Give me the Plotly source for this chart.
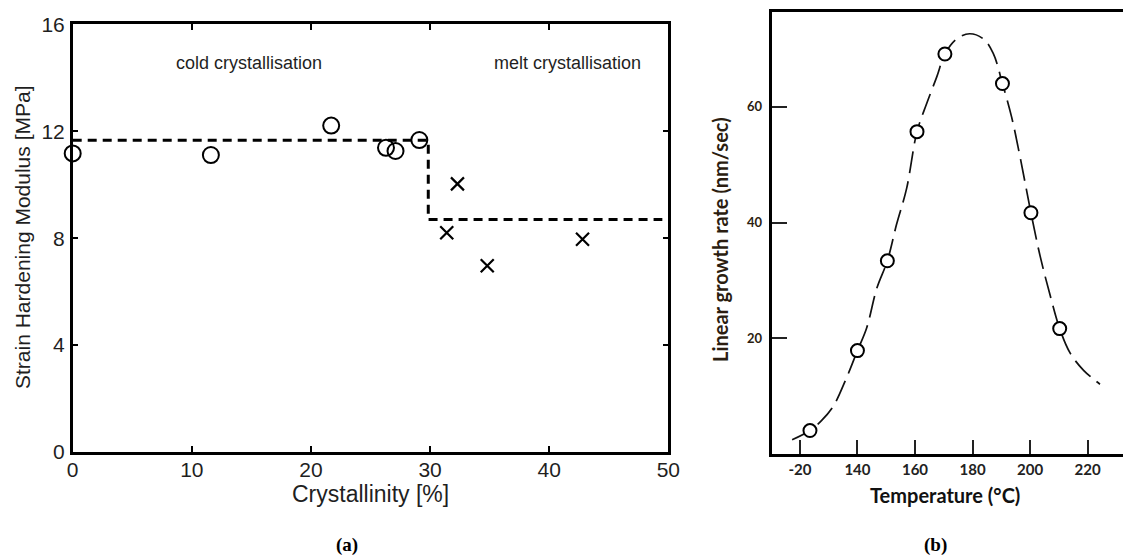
import plotly.graph_objects as go

# ---------------- Panel (a) data ----------------
cold_crystallinity = [0.0, 11.6, 21.7, 26.3, 27.1, 29.1]
cold_modulus = [11.17, 11.11, 12.21, 11.38, 11.26, 11.67]
melt_crystallinity = [31.4, 32.3, 34.8, 42.8]
melt_modulus = [8.20, 10.03, 6.97, 7.96]
step_crystallinity = [0.0, 29.85, 29.85, 49.5]
step_modulus = [11.66, 11.66, 8.70, 8.70]
a_xticks = [0, 10, 20, 30, 40, 50]
a_yticks = [0, 4, 8, 12, 16]

# ---------------- Panel (b) data ----------------
growth_temp = [123.5, 140.0, 150.4, 160.7, 170.4, 190.4, 200.3, 210.3]
growth_rate = [4.1, 17.9, 33.4, 55.7, 69.1, 64.0, 41.7, 21.7]
curve_temp = [117.3, 123.5, 127.5, 131.6, 136.2, 140.0, 143.2, 146.7, 150.4, 153.6,
              157.1, 160.7, 164.1, 167.6, 170.4, 174.5, 179.0, 183.8, 187.2, 190.4,
              193.6, 196.5, 200.3, 203.5, 207.0, 210.3, 213.9, 218.6, 224.3]
curve_rate = [2.5, 4.1, 5.8, 8.3, 13.2, 17.9, 21.8, 28.6, 33.4, 39.7,
              45.9, 55.7, 60.6, 65.2, 69.1, 71.7, 72.6, 71.7, 69.2, 64.0,
              58.2, 51.4, 41.7, 34.2, 27.4, 21.7, 17.5, 14.5, 12.1]
b_xticks = [120, 140, 160, 180, 200, 220]
b_xticktext = ["-20", "140", "160", "180", "200", "220"]
b_yticks = [20, 40, 60]

W, H = 1123, 559
def px(x):
    return x / W
def py(y):
    return 1 - y / H

A_FONT = "Liberation Sans, Arial, sans-serif"
B_FONT = "Lato, Open Sans, sans-serif"
TXT = "#1f1f1f"

fig = go.Figure()

# (a) traces
fig.add_trace(go.Scatter(x=step_crystallinity, y=step_modulus, mode="lines",
                         line=dict(color="black", width=3, dash="9px,6px"),
                         xaxis="x", yaxis="y", showlegend=False, cliponaxis=False))
fig.add_trace(go.Scatter(x=cold_crystallinity, y=cold_modulus, mode="markers",
                         marker=dict(symbol="circle-open", size=16, color="black",
                                     line=dict(width=2)),
                         xaxis="x", yaxis="y", showlegend=False, cliponaxis=False))
fig.add_trace(go.Scatter(x=melt_crystallinity, y=melt_modulus, mode="markers",
                         marker=dict(symbol="x-thin-open", size=13, color="black",
                                     line=dict(width=2.2, color="black")),
                         xaxis="x", yaxis="y", showlegend=False, cliponaxis=False))

# (b) traces
fig.add_trace(go.Scatter(x=curve_temp, y=curve_rate, mode="lines",
                         line=dict(color="#111111", width=1.7, dash="22px,8px", shape="spline"),
                         xaxis="x2", yaxis="y2", showlegend=False))
fig.add_trace(go.Scatter(x=growth_temp, y=growth_rate, mode="markers",
                         marker=dict(symbol="circle", size=13, color="white",
                                     line=dict(width=2, color="black")),
                         xaxis="x2", yaxis="y2", showlegend=False))

axis_a = dict(showline=True, linecolor="black", linewidth=2.5, mirror="ticks",
              ticks="inside", ticklen=6, tickwidth=2, tickcolor="black",
              showgrid=False, zeroline=False, automargin=False,
              tickfont=dict(family=A_FONT, size=21, color=TXT))

fig.update_layout(
    template="none",
    width=W, height=H, autosize=False,
    margin=dict(l=0, r=0, t=0, b=0, pad=0),
    paper_bgcolor="white", plot_bgcolor="white",
    xaxis=dict(domain=[px(72.7), px(668.3)], range=[0, 50], tickvals=a_xticks,
               anchor="y", ticklabelstandoff=-3, **axis_a),
    yaxis=dict(domain=[py(452), py(24.3)], range=[0, 16], tickvals=a_yticks,
               anchor="x", ticklabelstandoff=1, **axis_a),
    xaxis2=dict(domain=[px(771.7), 1.0], range=[110.2, 232.3], anchor="y2",
                tickvals=b_xticks, ticktext=b_xticktext, automargin=False,
                showline=True, linecolor="black", linewidth=3, mirror=True,
                ticks="inside", ticklen=14, tickwidth=2, tickcolor="#222",
                showgrid=False, zeroline=False,
                tickfont=dict(family=B_FONT, size=15, color="#222", weight="bold")),
    yaxis2=dict(domain=[py(454.3), py(12.3)], range=[0, 76.3], anchor="x2",
                tickvals=b_yticks, automargin=False,
                showline=True, linecolor="black", linewidth=3, mirror=False,
                ticks="inside", ticklen=15, tickwidth=2, tickcolor="#222",
                showgrid=False, zeroline=False, ticklabelstandoff=4,
                tickfont=dict(family=B_FONT, size=13, color="#2b1d10", weight="bold")),
)

annotations = [
    dict(text="cold crystallisation", x=px(248.7), y=py(63.3),
         font=dict(family=A_FONT, size=18, color=TXT)),
    dict(text="melt crystallisation", x=px(567.5), y=py(63.3),
         font=dict(family=A_FONT, size=18, color=TXT)),
    dict(text="Crystallinity [%]", x=px(370), y=py(494),
         font=dict(family=A_FONT, size=23, color=TXT)),
    dict(text="Strain Hardening Modulus [MPa]", x=px(22), y=py(237), textangle=-90,
         font=dict(family=A_FONT, size=21, color=TXT)),
    dict(text="Temperature (°C)", x=px(945), y=py(495),
         font=dict(family=B_FONT, size=20, color="#111", weight="bold")),
    dict(text="Linear growth rate (nm/sec)", x=px(720), y=py(240), textangle=-90,
         font=dict(family=B_FONT, size=20, color="#2b1d10", weight="bold")),
    dict(text="<b>(a)</b>", x=px(347), y=py(545),
         font=dict(family="Liberation Serif, Times New Roman, serif", size=19, color="black")),
    dict(text="<b>(b)</b>", x=px(935), y=py(545),
         font=dict(family="Liberation Serif, Times New Roman, serif", size=19, color="black")),
]
for a in annotations:
    a.update(xref="paper", yref="paper", showarrow=False, xanchor="center", yanchor="middle")
fig.update_layout(annotations=annotations)

fig.write_html("out.html", config={"displayModeBar": False},
               post_script="document.body.style.margin='0';document.body.style.overflow='hidden';")
